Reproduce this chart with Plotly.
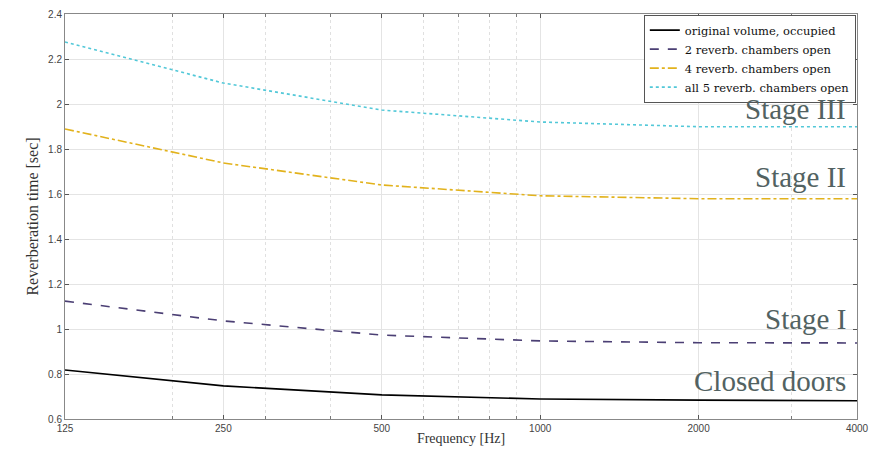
import plotly.graph_objects as go

freqs = [125, 250, 500, 1000, 2000, 4000]
closed_doors = [0.818, 0.747, 0.707, 0.689, 0.684, 0.681]
stage_1 = [1.124, 1.036, 0.973, 0.947, 0.939, 0.938]
stage_2 = [1.889, 1.738, 1.640, 1.592, 1.579, 1.579]
stage_3 = [2.276, 2.093, 1.973, 1.920, 1.899, 1.899]

series_names = ["original volume, occupied", "2 reverb. chambers open",
                "4 reverb. chambers open", "all 5 reverb. chambers open"]
stage_labels = ["Closed doors", "Stage I", "Stage II", "Stage III"]
label_y = [0.770, 1.046, 1.676, 1.976]

x_ticks = [125, 250, 500, 1000, 2000, 4000]
x_minor = [200, 300, 400, 600, 700, 800, 900, 3000]
y_ticks = [0.6, 0.8, 1, 1.2, 1.4, 1.6, 1.8, 2, 2.2, 2.4]
y_ticklabels = ["0.6", "0.8", "1", "1.2", "1.4", "1.6", "1.8", "2", "2.2", "2.4"]

colors = ["#000000", "#4b3f74", "#e2b21c", "#52c8d8"]
dashes = ["solid", "dash", "dashdot", "dot"]

serif = "Liberation Serif"
sans = "Liberation Sans"

fig = go.Figure()
for ys, name, c, d in zip([closed_doors, stage_1, stage_2, stage_3], series_names, colors, dashes):
    fig.add_trace(go.Scatter(x=freqs, y=ys, mode="lines", name=name,
                             line=dict(color=c, dash=d, width=1.6)))

for txt, yv in zip(stage_labels, label_y):
    fig.add_annotation(text=txt, xref="x domain", x=0.989, yref="y", y=yv,
                       xanchor="right", yanchor="middle", showarrow=False,
                       font=dict(family=serif, size=29, color="#526262"))

# page body has an 8px default margin; figure sized so the page is 884x454
fig.update_layout(
    width=868, height=438,
    margin=dict(l=57, r=19, t=6, b=27, autoexpand=False),
    paper_bgcolor="white", plot_bgcolor="white",
    showlegend=True,
    legend=dict(x=0.9985, y=0.9985, xanchor="right", yanchor="top",
                bgcolor="white", bordercolor="#555555", borderwidth=1,
                font=dict(family="DejaVu Serif", size=11.5, color="#111111"),
                itemwidth=30, tracegroupgap=0),
)

fig.update_xaxes(
    type="log", range=[2.0969, 3.60206], automargin=False,
    tickmode="array", tickvals=x_ticks, ticktext=[str(t) for t in x_ticks],
    ticks="inside", ticklen=4, tickcolor="#555555",
    showline=True, linecolor="#888888", linewidth=1, mirror="ticks",
    showgrid=True, gridcolor="#e4e4e4", gridwidth=1,
    minor=dict(tickmode="array", tickvals=x_minor, ticks="inside", ticklen=3,
               tickcolor="#777777", showgrid=True, gridcolor="#e0e0e0", griddash="dot"),
    tickfont=dict(family=sans, size=10, color="#444444"),
    title=dict(text="Frequency [Hz]", font=dict(family=serif, size=14, color="#333333"), standoff=2),
    zeroline=False,
)
fig.update_yaxes(
    range=[0.6, 2.4], automargin=False,
    tickmode="array", tickvals=y_ticks, ticktext=y_ticklabels,
    ticks="inside", ticklen=4, tickcolor="#555555",
    showline=True, linecolor="#888888", linewidth=1, mirror="ticks",
    showgrid=True, gridcolor="#e4e4e4", gridwidth=1,
    tickfont=dict(family=sans, size=10, color="#444444"),
    title=dict(text="Reverberation time [sec]", font=dict(family=serif, size=16, color="#333333"), standoff=5),
    zeroline=False,
)

fig.write_html("out.html")
